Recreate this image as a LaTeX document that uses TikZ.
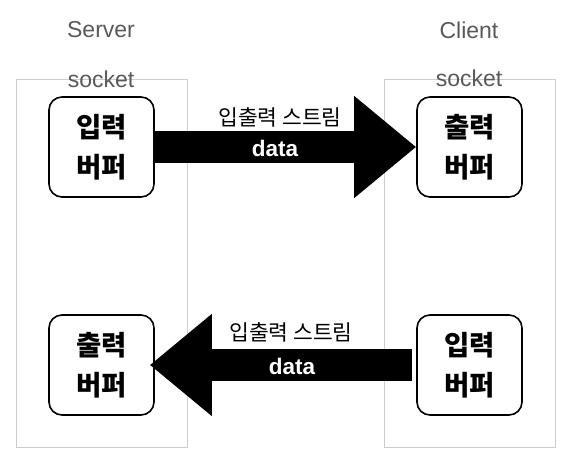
\documentclass[tikz,border=0pt]{standalone}
\usepackage{fontspec}
\setmainfont{Liberation Sans}
\newfontfamily\krfont{Noto Sans CJK KR}
\usetikzlibrary{arrows.meta}
\usetikzlibrary{positioning}
\usetikzlibrary{scopes}
\definecolor{sockline}{RGB}{204,204,204}
\definecolor{socktext}{RGB}{89,89,89}
\tikzset{
    socketbox/.style={draw=sockline,line width=0.8pt,minimum width=171pt,minimum height=368pt},
    sidelabel/.style={text=socktext,font=\fontsize{23}{26}\selectfont},
    bufbox/.style={draw,line width=1.6pt,rounded corners=13pt,minimum width=105pt,minimum height=100pt,
        align=center,font=\krfont\bfseries\fontsize{27.5}{40}\selectfont},
    streamlabel/.style={font=\krfont\fontsize{21.5}{24}\selectfont},
    datalabel/.style={text=white,font=\bfseries\fontsize{22.5}{24}\selectfont},
    fatarrow/.style={draw,line width=32pt,-{Triangle[length=62pt,width=98pt]}}
}
\begin{document}
\begin{tikzpicture}[x=1pt,y=-1pt]
    \useasboundingbox (0,0) rectangle (570,467);
    { []
        \node[socketbox] (srvsock) at (101.5,263) {};
        \node[sidelabel] (srvname) at (101,30) {Server};
        \node[sidelabel] (srvsocklbl) at (101,79) {socket};
        \node[bufbox] (srvin) at (101.5,147) {입력\\버퍼};
        \node[bufbox] (srvout) at (101.5,365) {출력\\버퍼};
    }
    { []
        \node[socketbox] (clisock) at (469.5,263) {};
        \node[sidelabel] (cliname) at (469,30) {Client};
        \node[sidelabel] (clisocklbl) at (469,78) {socket};
        \node[bufbox] (cliout) at (469.5,147) {출력\\버퍼};
        \node[bufbox] (cliin) at (469.5,365) {입력\\버퍼};
    }
    \draw[fatarrow] (srvin.east) -- (cliout.west);
    \draw[fatarrow,shorten <=4pt,shorten >=-5pt] (cliin.west) -- (srvout.east);
    \node[streamlabel] (topstream) at (280,117) {입출력 스트림};
    \node[datalabel] (topdata) at (275,148) {data};
    \node[streamlabel] (botstream) at (291,332) {입출력 스트림};
    \node[datalabel] (botdata) at (292,366) {data};
\end{tikzpicture}
\end{document}
